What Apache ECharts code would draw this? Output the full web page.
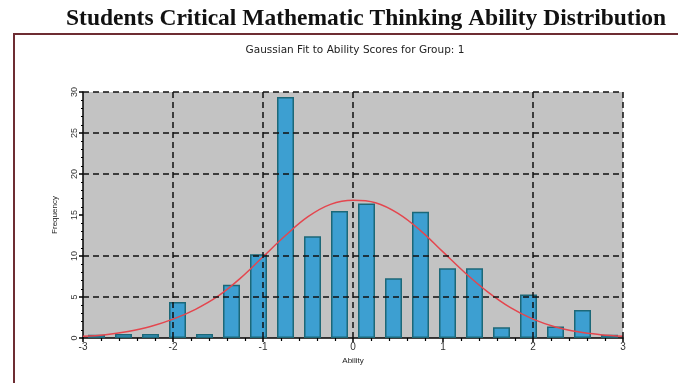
<!DOCTYPE html>
<html>
<head>
<meta charset="utf-8">
<script src="https://cdn.jsdelivr.net/npm/echarts@6/dist/echarts.min.js"></script>
<style>
  html, body { margin: 0; padding: 0; background: #fff; }
  #main { width: 678px; height: 383px; }
</style>
</head>
<body>
<div id="main"></div>
<script>
// bin centres (ability) and frequencies
var binCenters = [-2.85, -2.55, -2.25, -1.95, -1.65, -1.35, -1.05, -0.75, -0.45, -0.15,
                  0.15, 0.45, 0.75, 1.05, 1.35, 1.65, 1.95, 2.25, 2.55, 2.85];
var frequencies = [0.4, 0.5, 0.5, 4.4, 0.5, 6.5, 10.2, 29.4, 12.4, 15.5,
                   16.4, 7.3, 15.4, 8.5, 8.5, 1.3, 5.3, 1.4, 3.4, 0.4];

// gaussian fit curve, read point by point
var curveX = [-3, -2.75, -2.5, -2.25, -2, -1.75, -1.5, -1.25, -1, -0.75, -0.5, -0.25,
              0, 0.25, 0.5, 0.75, 1, 1.25, 1.5, 1.75, 2, 2.25, 2.5, 2.75, 3];
var curveY = [0.2, 0.4, 0.8, 1.4, 2.3, 3.5, 5.1, 7.3, 9.9, 12.5, 14.8, 16.3,
              16.8, 16.5, 15.2, 13.1, 10.5, 7.9, 5.6, 3.7, 2.3, 1.35, 0.75, 0.4, 0.2];

// dashed grid lines that show in the picture
var xGridLines = [-2, -1, 0, 2, 3];
var yGridLines = [5, 10, 20, 25, 30];

var titleText = 'Students Critical Mathematic Thinking Ability Distribution';
var subText = 'Gaussian Fit to Ability Scores for Group: 1';

var chart = echarts.init(document.getElementById('main'));

var barData = [];
for (var i = 0; i < binCenters.length; i++) {
    barData.push([binCenters[i], frequencies[i]]);
}
var curveData = [];
for (var j = 0; j < curveX.length; j++) {
    curveData.push([curveX[j], curveY[j]]);
}
var gridMarks = [];
xGridLines.forEach(function (v) { gridMarks.push({xAxis: v}); });
yGridLines.forEach(function (v) { gridMarks.push({yAxis: v}); });

var option = {
    backgroundColor: '#fff',
    animation: false,
    title: [{
        text: titleText,
        left: 361,
        top: 2,
        textAlign: 'center',
        textStyle: {
            fontFamily: 'Liberation Serif',
            fontWeight: 'bold',
            fontSize: 23.5,
            color: '#111'
        }
    }, {
        text: subText,
        left: 350,
        top: 40,
        textAlign: 'center',
        textStyle: {
            fontFamily: 'DejaVu Sans',
            fontWeight: 'normal',
            fontSize: 10.5,
            color: '#222'
        }
    }],
    graphic: [{
        type: 'polyline',
        shape: {points: [[14, 383], [14, 34], [678, 34]]},
        style: {stroke: '#6e2d33', lineWidth: 2, fill: null},
        silent: true
    }],
    grid: {
        left: 83,
        right: 55,
        top: 92,
        bottom: 45,
        show: true,
        backgroundColor: '#c3c3c3',
        borderWidth: 0
    },
    xAxis: {
        type: 'value',
        min: -3,
        max: 3,
        interval: 1,
        name: 'Ability',
        nameLocation: 'middle',
        nameGap: 18,
        nameTextStyle: {fontSize: 8, color: '#222', fontFamily: 'Liberation Sans'},
        axisLine: {show: true, onZero: false, lineStyle: {color: '#000', width: 1.5}},
        axisTick: {show: true, length: 4, lineStyle: {color: '#000', width: 1.5}},
        minorTick: {show: true, splitNumber: 5, length: 3, lineStyle: {color: '#000', width: 1.2}},
        axisLabel: {fontSize: 10, color: '#333', margin: 4, fontFamily: 'Liberation Sans'},
        splitLine: {show: false}
    },
    yAxis: {
        type: 'value',
        min: 0,
        max: 30,
        interval: 5,
        name: 'Frequency',
        nameLocation: 'middle',
        nameGap: 24,
        nameRotate: 90,
        nameTextStyle: {fontSize: 8, color: '#222', fontFamily: 'Liberation Sans'},
        axisLine: {show: true, onZero: false, lineStyle: {color: '#000', width: 1.5}},
        axisTick: {show: true, length: 4, lineStyle: {color: '#000', width: 1.5}},
        minorTick: {show: true, splitNumber: 5, length: 2, lineStyle: {color: '#000', width: 1}},
        axisLabel: {fontSize: 9, color: '#333', margin: 4, rotate: 90, fontFamily: 'Liberation Sans'},
        splitLine: {show: false}
    },
    series: [
        {
            name: 'Frequency',
            type: 'bar',
            data: barData,
            barWidth: 17,
            itemStyle: {
                color: '#3d9fd1',
                borderColor: '#1c6878',
                borderWidth: 1.5
            },
            markLine: {
                silent: true,
                symbol: 'none',
                label: {show: false},
                lineStyle: {type: [6, 4], color: '#111', width: 1.5},
                data: gridMarks
            },
            z: 2
        },
        {
            name: 'Gaussian Fit',
            type: 'line',
            data: curveData,
            smooth: 0.4,
            showSymbol: false,
            lineStyle: {color: '#e4464e', width: 1.5},
            z: 3
        }
    ]
};

chart.setOption(option);
</script>
</body>
</html>
